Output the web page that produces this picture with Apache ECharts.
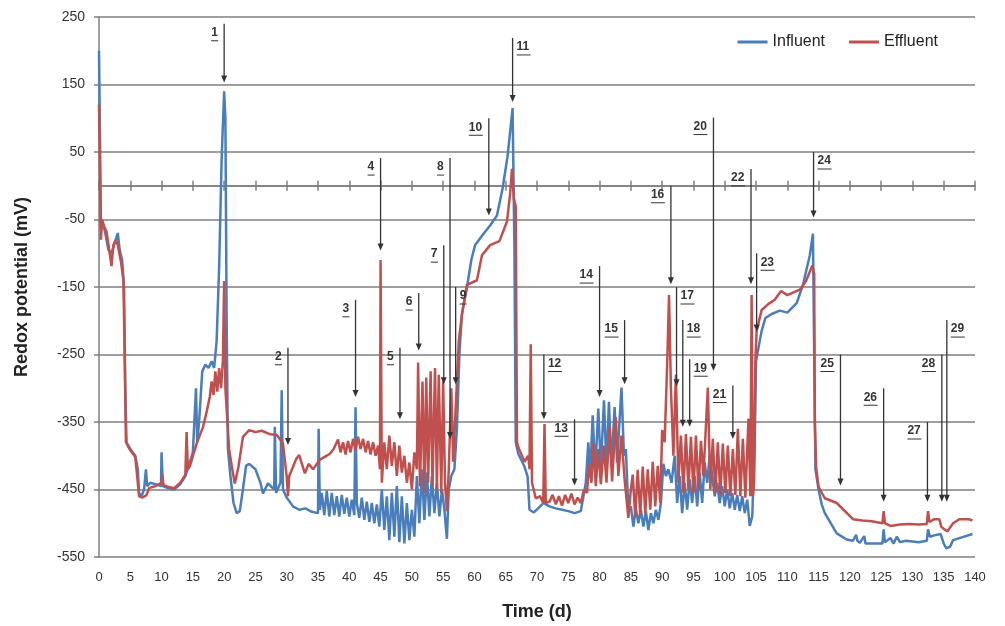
<!DOCTYPE html>
<html>
<head>
<meta charset="utf-8">
<title>Redox potential</title>
<script src="https://cdn.jsdelivr.net/npm/echarts@6/dist/echarts.min.js"></script>
<style>
html, body { margin: 0; padding: 0; background: #fff; }
#chart { width: 1005px; height: 626px; }
</style>
</head>
<body>
<div id="chart"></div>
<script>
// redox potential (mV) against time (d)
var influent = [
	[0,200],[0.1,120],[0.3,-60],[0.6,-55],[1,-70],[1.5,-95],[2,-100],[2.5,-85],[3,-70],[3.3,-95],[3.7,-110],
	[4,-150],[4.2,-300],[4.4,-380],[5,-390],[5.8,-400],[6.2,-420],[6.4,-455],[6.8,-460],[7.2,-450],[7.5,-420],
	[7.7,-445],[8.2,-440],[9,-442],[9.9,-445],[10,-395],[10.2,-445],[11,-448],[12,-450],[13,-442],[13.8,-430],
	[14.5,-410],[15,-395],[15.5,-300],[15.7,-380],[16,-350],[16.5,-275],[17,-265],[17.5,-270],[18,-260],
	[18.4,-270],[18.8,-230],[19.2,-120],[19.6,40],[20,140],[20.2,100],[20.4,-200],[20.6,-390],[21,-430],
	[21.5,-470],[22,-485],[22.5,-482],[23,-450],[23.5,-415],[24,-412],[25,-420],[25.8,-440],[26.2,-456],
	[27,-441],[28,-450],[28.1,-357],[28.3,-455],[29,-440],[29.2,-303],[29.4,-450],[30,-462],[31,-475],
	[32,-480],[33,-478],[34,-483],[35,-485],[35.1,-360],[35.3,-480],[35.6,-455],[36,-488],[36.4,-452],
	[36.8,-490],[37.2,-455],[37.6,-488],[38,-460],[38.4,-490],[38.8,-458],[39.2,-486],[39.6,-462],[40,-490],
	[40.4,-465],[40.8,-488],[41,-328],[41.2,-470],[41.6,-492],[42,-462],[42.4,-495],[42.8,-468],[43.2,-498],
	[43.6,-470],[44,-500],[44.4,-472],[44.8,-505],[45.2,-450],[45.6,-510],[46,-460],[46.4,-525],[46.8,-455],
	[47.2,-520],[47.6,-445],[48,-528],[48.4,-460],[48.8,-530],[49.2,-470],[49.6,-525],[50,-480],[50.4,-520],
	[50.8,-430],[51.2,-500],[51.6,-420],[52,-495],[52.4,-425],[52.8,-490],[53.2,-430],[53.6,-485],[54,-440],
	[54.4,-490],[54.8,-450],[55.2,-480],[55.6,-523],[55.9,-450],[56.3,-430],[56.8,-420],[57.2,-360],
	[57.6,-250],[58,-190],[58.8,-151],[59.5,-110],[60.1,-88],[61.3,-73],[62.5,-59],[63.6,-44],[64.5,-4],
	[65.3,44],[66.1,115],[66.4,-100],[66.6,-380],[67,-397],[68,-416],[68.5,-431],[68.8,-480],[69.5,-484],
	[70.5,-475],[71,-470],[72,-475],[73,-478],[74,-480],[75,-482],[76,-485],[77,-482],[77.8,-440],
	[78.2,-380],[78.5,-430],[78.9,-340],[79.3,-425],[79.8,-330],[80.2,-420],[80.7,-318],[81.1,-415],
	[81.5,-320],[81.9,-418],[82.4,-328],[82.8,-410],[83.5,-299],[83.9,-400],[84.2,-390],[84.6,-480],
	[85,-475],[85.4,-505],[85.8,-478],[86.2,-500],[86.6,-480],[87,-505],[87.4,-482],[87.8,-510],[88.2,-485],
	[88.6,-500],[89,-480],[89.4,-495],[89.8,-470],[90.2,-412],[90.6,-430],[91,-420],[91.5,-440],[92,-400],
	[92.4,-470],[92.8,-430],[93.2,-485],[93.6,-440],[94,-480],[94.4,-435],[94.8,-470],[95.2,-430],[95.6,-475],
	[96,-425],[96.4,-470],[96.8,-410],[97.2,-440],[97.6,-400],[98,-430],[98.4,-460],[98.8,-440],[99.2,-470],
	[99.6,-445],[100,-475],[100.4,-450],[100.8,-478],[101.2,-455],[101.6,-480],[102,-458],[102.4,-482],
	[102.8,-460],[103.2,-485],[103.6,-465],[104,-504],[104.4,-490],[104.8,-380],[105,-260],[105.5,-235],
	[105.9,-215],[106.5,-196],[107.5,-190],[108.8,-185],[110,-188],[111.5,-174],[112.5,-147],[113.6,-103],
	[114.1,-71],[114.3,-250],[114.5,-420],[115,-450],[115.5,-472],[116,-485],[117.9,-515],[119.5,-524],
	[120.5,-526],[121,-517],[121.2,-526],[121.6,-529],[122.3,-519],[122.5,-530],[124,-530],[125.2,-530],
	[125.4,-509],[125.6,-528],[126.5,-522],[127,-530],[127.5,-520],[128,-528],[129,-526],[131,-528],
	[132.3,-526],[132.5,-509],[132.8,-520],[133.5,-518],[134.5,-516],[135,-530],[135.4,-537],[136,-535],
	[136.5,-525],[137.5,-522],[139.6,-516]
];

var effluent = [
	[0,120],[0.1,60],[0.3,-80],[0.5,-50],[0.8,-60],[1.2,-68],[1.6,-93],[2,-119],[2.3,-88],[2.7,-80],[3,-88],
	[3.5,-112],[3.9,-140],[4.1,-250],[4.3,-380],[5,-392],[5.8,-402],[6.2,-440],[6.4,-460],[7,-462],
	[7.6,-458],[8,-448],[9,-445],[10,-440],[10.1,-428],[10.3,-443],[11,-446],[12,-448],[13,-440],
	[13.8,-428],[14,-365],[14.2,-420],[14.5,-416],[15.6,-382],[16.6,-358],[17.2,-335],[17.7,-313],[18,-290],
	[18.3,-310],[18.6,-275],[18.9,-305],[19.2,-270],[19.5,-300],[19.8,-260],[20,-141],[20.2,-300],
	[20.5,-347],[20.8,-391],[21.3,-420],[21.7,-441],[22.3,-416],[23,-372],[24,-362],[25,-365],[26,-363],
	[27.3,-368],[28.4,-369],[29.4,-382],[30,-431],[30.2,-460],[30.4,-430],[30.8,-421],[31.5,-405],[32,-399],
	[32.9,-426],[33.5,-412],[34.2,-420],[35.3,-406],[36,-402],[36.9,-397],[37.5,-390],[38.2,-376],
	[38.6,-395],[39,-380],[39.4,-398],[39.8,-378],[40.2,-395],[40.6,-375],[41,-392],[41.4,-372],[41.8,-390],
	[42.2,-375],[42.6,-395],[43,-378],[43.4,-398],[43.8,-380],[44.2,-400],[44.6,-385],[44.9,-420],[45,-110],
	[45.2,-440],[45.6,-380],[46,-420],[46.4,-370],[46.8,-415],[47.2,-380],[47.6,-430],[48,-385],[48.4,-425],
	[48.8,-400],[49.2,-440],[49.6,-410],[50,-450],[50.4,-395],[50.8,-420],[51,-262],[51.3,-445],[51.7,-290],
	[52,-455],[52.3,-284],[52.6,-440],[53,-275],[53.3,-445],[53.7,-270],[54,-450],[54.3,-280],[54.7,-455],
	[55,-290],[55.3,-440],[55.6,-482],[55.9,-420],[56.3,-300],[56.6,-409],[57,-330],[57.5,-230],[58,-191],
	[58.8,-147],[60.4,-140],[61.2,-103],[62.5,-88],[64,-82],[65.2,-53],[65.7,-12],[66,25],[66.3,-19],
	[66.6,-30],[66.8,-380],[67,-387],[68,-409],[68.6,-400],[68.8,-420],[69,-235],[69.2,-440],[69.8,-463],
	[70.5,-460],[71,-470],[71.2,-353],[71.4,-470],[72,-468],[72.5,-458],[73,-472],[73.5,-460],[74,-474],
	[74.5,-458],[75,-470],[75.5,-456],[76,-472],[76.5,-462],[77,-470],[77.5,-450],[78,-455],[78.3,-412],
	[78.7,-440],[79,-382],[79.4,-445],[79.8,-390],[80.2,-442],[80.7,-385],[81.1,-440],[81.6,-357],[82,-438],
	[82.6,-343],[83,-430],[83.5,-370],[84,-435],[84.6,-492],[85,-450],[85.3,-428],[85.7,-490],[86.1,-421],
	[86.5,-488],[86.9,-416],[87.3,-485],[87.7,-420],[88.1,-480],[88.5,-409],[88.9,-475],[89.3,-415],
	[89.7,-470],[90,-362],[90.4,-380],[90.8,-265],[91.1,-162],[91.4,-300],[91.8,-400],[92.2,-280],
	[92.6,-440],[93,-370],[93.4,-455],[93.8,-368],[94.2,-450],[94.6,-372],[95,-455],[95.4,-370],[95.8,-452],
	[96.2,-378],[96.6,-430],[97.3,-299],[97.7,-450],[98.1,-375],[98.5,-455],[98.9,-380],[99.3,-458],
	[99.7,-382],[100.1,-455],[100.5,-385],[100.9,-460],[101.3,-390],[101.7,-458],[102.1,-360],[102.5,-460],
	[102.9,-375],[103.3,-462],[103.8,-345],[104.1,-460],[104.3,-162],[104.5,-460],[104.7,-440],[104.9,-260],
	[105.1,-215],[105.9,-184],[107,-175],[108,-169],[109,-156],[110,-162],[112,-154],[113,-141],[114,-118],
	[114.3,-130],[114.4,-350],[114.6,-416],[115,-446],[116,-463],[117.9,-470],[119,-480],[120.5,-494],
	[122,-496],[123.5,-497],[125.2,-500],[125.4,-482],[125.6,-500],[126.5,-504],[128,-502],[129.5,-501],
	[131,-502],[132.3,-501],[132.5,-482],[132.7,-498],[133.5,-494],[134.3,-494],[134.6,-505],[135.1,-509],
	[135.6,-512],[136.5,-500],[137.5,-494],[139,-494],[139.6,-496]
];

// numbered event arrows: day, top of the line (mV), arrow tip (mV)
var arrowLabels = [1, 2, 3, 4, 5, 6, 7, 8, 9, 10, 11, 12, 13, 14, 15, 16, 17, 18, 19, 20, 21, 22, 23, 24, 25, 26, 27, 28, 29];
var arrowDays = [20, 30.2, 41, 45, 48.1, 51.1, 55.1, 56.1, 57, 62.3, 66.1, 71.1, 76, 80, 84, 91.4, 92.3, 93.3, 94.4, 98.2, 101.3, 104.2, 105.1, 114.2, 118.5, 125.4, 132.4, 134.7, 135.5];
var arrowTops = [240, -240, -169, 41, -240, -159, -88, 41, -150, 100, 219, -250, -346, -119, -199, 0, -150, -199, -257, 101, -296, 25, -100, 50, -250, -300, -350, -250, -199];
var arrowTips = [153, -384, -313, -96, -346, -244, -294, -375, -294, -44, 124, -346, -444, -313, -294, -146, -297, -357, -357, -274, -375, -146, -216, -47, -444, -468, -468, -468, -468];
var labelOnRight = [9, 11, 12, 17, 18, 19, 23, 24, 29];

var xTicks = { min: 0, max: 140, interval: 5 };
var yTicks = { min: -550, max: 250, interval: 100 };

var arrows = arrowLabels.map(function (n, i) {
	return [arrowDays[i], arrowTops[i], arrowTips[i], n];
});

var myChart = echarts.init(document.getElementById('chart'), null, { renderer: 'canvas' });
var gray = '#7f7f7f';
var ink = '#333';

function renderArrow(params, api) {
	var day = api.value(0);
	var top = api.coord([day, api.value(1)]);
	var tip = api.coord([day, api.value(2)]);
	var label = String(api.value(3));
	var w = label.length * 7;
	var right = labelOnRight.indexOf(+label) >= 0;
	var tx = right ? top[0] + 4 : top[0] - 6 - w;
	var ty = top[1] + 3;
	return {
		type: 'group',
		children: [
			{ type: 'line', shape: { x1: top[0], y1: top[1], x2: tip[0], y2: tip[1] - 5 }, style: { stroke: ink, lineWidth: 1.3 } },
			{ type: 'polygon', shape: { points: [[tip[0] - 3, tip[1] - 7], [tip[0] + 3, tip[1] - 7], [tip[0], tip[1]]] }, style: { fill: ink } },
			{ type: 'text', x: tx, y: ty, style: { text: label, fill: ink, fontSize: 12, fontWeight: 'bold', fontFamily: 'Liberation Sans', align: 'left', verticalAlign: 'top' } },
			{ type: 'line', shape: { x1: tx, y1: ty + 14, x2: tx + w, y2: ty + 14 }, style: { stroke: ink, lineWidth: 1 } }
		]
	};
}

// the zero line carries ticks on both sides: two tick-only x axes sit on it,
// each tied to its own y axis so both are allowed onto zero
function zeroAxis(side, yIndex) {
	return {
		type: 'value',
		min: xTicks.min, max: xTicks.max, interval: xTicks.interval,
		position: side,
		axisLine: { show: true, onZero: true, onZeroAxisIndex: yIndex, lineStyle: { color: gray, width: 1.5 } },
		axisTick: { show: true, length: 5, lineStyle: { color: gray, width: 1.5 } },
		axisLabel: { show: false },
		splitLine: { show: false }
	};
}

var option = {
	animation: false,
	grid: { left: 99, right: 30, top: 17, bottom: 65 },
	legend: {
		right: 62,
		top: 29,
		icon: 'rect',
		itemWidth: 30,
		itemHeight: 3,
		itemGap: 24,
		textStyle: { fontSize: 16, color: '#222', fontFamily: 'Liberation Sans' },
		data: ['Influent', 'Effluent']
	},
	xAxis: [{
		type: 'value',
		min: xTicks.min, max: xTicks.max, interval: xTicks.interval,
		position: 'bottom',
		name: 'Time (d)',
		nameLocation: 'middle',
		nameGap: 46,
		nameTextStyle: { fontSize: 18, fontWeight: 'bold', color: '#222', fontFamily: 'Liberation Sans' },
		axisLine: { show: false, onZero: false },
		axisTick: { show: false },
		splitLine: { show: false },
		axisLabel: { fontSize: 13, color: '#333', margin: 14, fontFamily: 'Liberation Sans' }
	}, zeroAxis('bottom', 0), zeroAxis('top', 1)],
	yAxis: [{
		type: 'value',
		min: yTicks.min, max: yTicks.max, interval: yTicks.interval,
		name: 'Redox potential (mV)',
		nameLocation: 'middle',
		nameGap: 68,
		nameTextStyle: { fontSize: 18, fontWeight: 'bold', color: '#222', fontFamily: 'Liberation Sans' },
		axisLine: { show: true, lineStyle: { color: gray, width: 1.5 } },
		axisTick: { show: true, length: 5, lineStyle: { color: gray, width: 1.5 } },
		axisLabel: { fontSize: 14, color: '#333', margin: 14, fontFamily: 'Liberation Sans' },
		splitLine: { show: true, lineStyle: { color: gray, width: 1.5 } }
	}, {
		type: 'value',
		min: yTicks.min, max: yTicks.max, interval: yTicks.interval,
		position: 'right',
		show: false
	}],
	series: [{
		name: 'Influent',
		type: 'line',
		data: influent,
		symbol: 'none',
		color: '#4a7ebb',
		lineStyle: { width: 2.5 },
		z: 3
	}, {
		name: 'Effluent',
		type: 'line',
		data: effluent,
		symbol: 'none',
		color: '#c0504d',
		lineStyle: { width: 2.5 },
		z: 3
	}, {
		name: 'events',
		type: 'custom',
		data: arrows,
		encode: { x: 0, y: [1, 2] },
		renderItem: renderArrow,
		clip: false,
		silent: true,
		z: 5
	}]
};
myChart.setOption(option);
window.onresize = myChart.resize;
</script>
</body>
</html>
